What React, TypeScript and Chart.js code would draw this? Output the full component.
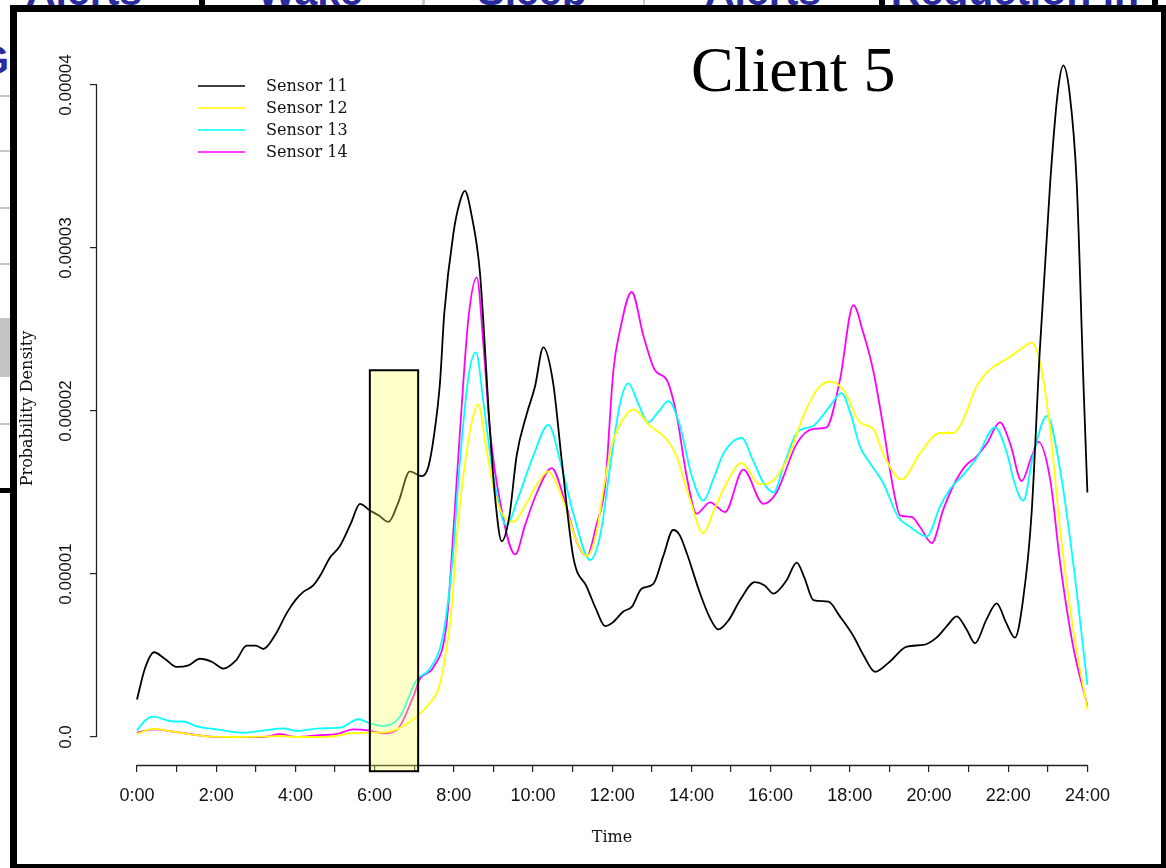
import React, { useEffect, useRef } from "react";
import { Chart, registerables } from "chart.js";

Chart.register(...registerables);

// ---------- data (densities in units of 1e-5) ----------
const seriesLabels = ["Sensor 11", "Sensor 12", "Sensor 13", "Sensor 14"];
const seriesColors = ["#000000", "#ffff00", "#00ffff", "#ff00ff"];

const s11Hours = [0, 0.2, 0.43, 0.7, 1.0, 1.3, 1.59, 1.9, 2.18, 2.5, 2.77, 3.0, 3.19, 3.5, 3.78, 4.0, 4.2, 4.45, 4.65, 4.87, 5.12, 5.4, 5.63, 5.88, 6.1, 6.35, 6.6, 6.89, 7.19, 7.36, 7.5, 7.65, 7.76, 7.99, 8.15, 8.28, 8.45, 8.66, 8.91, 9.05, 9.21, 9.4, 9.59, 9.84, 10.05, 10.26, 10.51, 10.72, 11.02, 11.36, 11.6, 11.82, 12.0, 12.28, 12.5, 12.74, 13.04, 13.29, 13.54, 13.7, 13.88, 14.22, 14.45, 14.68, 14.95, 15.23, 15.6, 15.85, 16.07, 16.4, 16.66, 16.85, 17.08, 17.46, 17.75, 18.09, 18.35, 18.64, 19.0, 19.44, 19.86, 20.19, 20.45, 20.7, 20.95, 21.16, 21.45, 21.71, 21.95, 22.17, 22.38, 22.59, 22.8, 23.06, 23.25, 23.39, 23.55, 23.73, 23.9, 24.0];
const s11Density = [0.23, 0.42, 0.52, 0.48, 0.43, 0.44, 0.48, 0.46, 0.42, 0.47, 0.56, 0.56, 0.54, 0.63, 0.76, 0.84, 0.89, 0.93, 1.0, 1.1, 1.17, 1.31, 1.43, 1.39, 1.36, 1.32, 1.44, 1.63, 1.6, 1.66, 1.85, 2.17, 2.6, 3.09, 3.28, 3.35, 3.2, 2.85, 1.89, 1.45, 1.2, 1.35, 1.73, 1.98, 2.15, 2.39, 2.17, 1.71, 1.1, 0.92, 0.78, 0.68, 0.7, 0.77, 0.8, 0.91, 0.94, 1.11, 1.27, 1.24, 1.13, 0.88, 0.74, 0.66, 0.72, 0.84, 0.95, 0.93, 0.88, 0.96, 1.07, 0.98, 0.84, 0.83, 0.74, 0.62, 0.5, 0.4, 0.46, 0.555, 0.565, 0.61, 0.68, 0.74, 0.66, 0.575, 0.72, 0.82, 0.7, 0.61, 0.85, 1.37, 2.38, 3.4, 3.95, 4.12, 3.95, 3.4, 2.17, 1.5];

const s12Hours = [0, 0.41, 0.92, 1.4, 1.92, 2.5, 3.19, 3.61, 4.03, 4.5, 4.87, 5.38, 5.88, 6.39, 6.75, 7.06, 7.4, 7.62, 7.82, 7.95, 8.07, 8.2, 8.33, 8.47, 8.62, 8.8, 9.0, 9.2, 9.51, 9.8, 10.1, 10.39, 10.6, 10.85, 11.1, 11.36, 11.6, 11.8, 12.0, 12.2, 12.53, 12.95, 13.38, 13.63, 13.96, 14.3, 14.55, 14.81, 15.27, 15.73, 15.98, 16.41, 16.83, 17.17, 17.5, 17.84, 18.26, 18.59, 18.84, 19.31, 19.77, 20.28, 20.61, 20.83, 21.2, 21.54, 21.97, 22.38, 22.59, 22.8, 23.06, 23.31, 23.64, 24.0];
const s12Density = [0.02, 0.05, 0.033, 0.015, 0.002, 0, 0.002, 0.006, 0, 0, 0.002, 0.022, 0.026, 0.033, 0.07, 0.125, 0.21, 0.3, 0.55, 0.8, 1.21, 1.52, 1.76, 1.95, 2.04, 1.8, 1.53, 1.38, 1.32, 1.42, 1.55, 1.63, 1.55, 1.39, 1.2, 1.11, 1.25, 1.55, 1.8, 1.92, 2.01, 1.91, 1.825, 1.72, 1.46, 1.25, 1.38, 1.52, 1.68, 1.55, 1.56, 1.7, 1.97, 2.13, 2.18, 2.13, 1.93, 1.89, 1.74, 1.58, 1.74, 1.865, 1.865, 1.93, 2.15, 2.255, 2.32, 2.39, 2.42, 2.3, 1.89, 1.27, 0.66, 0.17];

const s13Hours = [0, 0.2, 0.41, 0.92, 1.17, 1.51, 2.01, 2.68, 3.19, 3.7, 4.03, 4.62, 5.13, 5.59, 5.88, 6.22, 6.64, 7.06, 7.4, 7.74, 7.99, 8.11, 8.37, 8.56, 8.75, 9.0, 9.33, 9.6, 10.0, 10.39, 10.7, 11.02, 11.44, 11.69, 12.0, 12.2, 12.41, 12.65, 12.91, 13.15, 13.42, 13.71, 14.01, 14.3, 14.55, 14.81, 15.27, 15.55, 15.82, 16.07, 16.35, 16.66, 17.08, 17.5, 17.79, 18.01, 18.26, 18.51, 18.84, 19.22, 19.52, 19.94, 20.28, 20.53, 20.87, 21.2, 21.67, 21.97, 22.17, 22.38, 22.64, 22.98, 23.31, 23.64, 24.0];
const s13Density = [0.04, 0.1, 0.125, 0.095, 0.095, 0.065, 0.047, 0.026, 0.039, 0.053, 0.037, 0.053, 0.057, 0.109, 0.084, 0.068, 0.125, 0.35, 0.42, 0.64, 1.15, 1.56, 2.21, 2.36, 2.05, 1.6, 1.3, 1.45, 1.72, 1.915, 1.68, 1.37, 1.086, 1.23, 1.75, 2.05, 2.17, 2.05, 1.93, 1.99, 2.06, 1.91, 1.6, 1.45, 1.58, 1.74, 1.835, 1.7, 1.56, 1.5, 1.68, 1.865, 1.91, 2.03, 2.11, 1.99, 1.78, 1.68, 1.56, 1.35, 1.29, 1.23, 1.415, 1.52, 1.61, 1.71, 1.9, 1.74, 1.55, 1.45, 1.74, 1.97, 1.64, 1.07, 0.32];

const s14Hours = [0, 0.41, 0.92, 1.51, 2.01, 2.6, 3.19, 3.61, 4.03, 4.62, 5.04, 5.46, 5.88, 6.22, 6.56, 6.98, 7.15, 7.49, 7.82, 8.0, 8.16, 8.37, 8.58, 8.75, 8.91, 9.17, 9.55, 9.8, 10.1, 10.47, 10.8, 11.1, 11.36, 11.6, 11.82, 12.03, 12.2, 12.49, 12.79, 13.08, 13.38, 13.63, 13.88, 14.13, 14.47, 14.85, 15.31, 15.82, 16.15, 16.66, 17.08, 17.41, 17.75, 18.09, 18.34, 18.59, 18.84, 19.1, 19.27, 19.56, 19.77, 20.07, 20.36, 20.61, 20.91, 21.2, 21.46, 21.79, 22.05, 22.34, 22.59, 22.76, 23.06, 23.31, 23.64, 24.0];
const s14Density = [0.026, 0.047, 0.033, 0.012, 0, 0, 0, 0.017, 0, 0.012, 0.018, 0.047, 0.039, 0.022, 0.043, 0.25, 0.36, 0.43, 0.7, 1.3, 1.89, 2.57, 2.82, 2.4, 1.89, 1.44, 1.12, 1.3, 1.5, 1.65, 1.45, 1.2, 1.11, 1.3, 1.54, 2.25, 2.5, 2.73, 2.46, 2.25, 2.19, 1.97, 1.6, 1.37, 1.44, 1.38, 1.64, 1.43, 1.5, 1.8, 1.89, 1.9, 2.19, 2.65, 2.48, 2.25, 1.91, 1.52, 1.36, 1.35, 1.29, 1.19, 1.395, 1.54, 1.66, 1.72, 1.8, 1.93, 1.8, 1.57, 1.72, 1.81, 1.58, 1.07, 0.555, 0.19];

const hourTicks = [0, 1, 2, 3, 4, 5, 6, 7, 8, 9, 10, 11, 12, 13, 14, 15, 16, 17, 18, 19, 20, 21, 22, 23, 24];
const xTickLabels = ["0:00", "", "2:00", "", "4:00", "", "6:00", "", "8:00", "", "10:00", "", "12:00", "", "14:00", "", "16:00", "", "18:00", "", "20:00", "", "22:00", "", "24:00"];
const densityTicks = [0, 1, 2, 3, 4];
const densityTickLabels = ["0.0", "0.00001", "0.00002", "0.00003", "0.00004"];

// highlighted time window (hours) and its vertical extent (density units)
const highlightFrom = 5.88;
const highlightTo = 7.1;
const highlightTop = 2.25;
const highlightBottom = -0.21;

const chartTitle = "Client 5";
const xTitle = "Time";
const yTitle = "Probability Density";

// axis ranges (R-style extended plot region)
const X_MIN = -1.0101;
const X_MAX = 25;
const Y_MIN = -0.1718;
const Y_MAX = 4.2025;

const hoursList = [s11Hours, s12Hours, s13Hours, s14Hours];
const densityList = [s11Density, s12Density, s13Density, s14Density];

const decorPlugin = {
  id: "decor",
  afterDraw(chart: any) {
    const { ctx, chartArea } = chart;
    const xs = chart.scales.x;
    const ys = chart.scales.y;
    ctx.save();
    // R-style axis lines (from first to last tick)
    ctx.strokeStyle = "#222";
    ctx.lineWidth = 1.3;
    ctx.beginPath();
    const yb = Math.round(chartArea.bottom) + 0.5;
    ctx.moveTo(xs.getPixelForValue(hourTicks[0]), yb);
    ctx.lineTo(xs.getPixelForValue(hourTicks[hourTicks.length - 1]), yb);
    const xl = Math.round(chartArea.left) - 0.5;
    ctx.moveTo(xl, ys.getPixelForValue(densityTicks[0]));
    ctx.lineTo(xl, ys.getPixelForValue(densityTicks[densityTicks.length - 1]));
    ctx.stroke();

    // highlight window
    const l = xs.getPixelForValue(highlightFrom);
    const r = xs.getPixelForValue(highlightTo);
    const t = ys.getPixelForValue(highlightTop);
    const b = ys.getPixelForValue(highlightBottom);
    ctx.fillStyle = "rgba(255,255,90,0.32)";
    ctx.fillRect(l, t, r - l, b - t);
    ctx.strokeStyle = "#000";
    ctx.lineWidth = 2;
    ctx.strokeRect(l, t, r - l, b - t);

    // legend
    ctx.font = '16px "DejaVu Serif"';
    ctx.textBaseline = "middle";
    ctx.textAlign = "left";
    chart.data.datasets.forEach((ds: any, i: number) => {
      const y = 86 + i * 22;
      ctx.strokeStyle = ds.borderColor;
      ctx.lineWidth = 1.6;
      ctx.beginPath();
      ctx.moveTo(198, y);
      ctx.lineTo(245, y);
      ctx.stroke();
      ctx.fillStyle = "#111";
      ctx.fillText(ds.label, 266, y + 1);
    });

    // title
    ctx.font = '64px "Liberation Serif"';
    ctx.textBaseline = "alphabetic";
    ctx.fillStyle = "#000";
    ctx.fillText(chartTitle, 691, 91);
    ctx.restore();
  },
};

const blueText: { text: string; cx: number }[] = [
  { text: "Alerts", cx: 84 },
  { text: "Wake", cx: 310 },
  { text: "Sleep", cx: 532 },
  { text: "Alerts", cx: 763 },
  { text: "Reduction in", cx: 1015 },
];

export default function App() {
  const canvasRef = useRef<HTMLCanvasElement | null>(null);

  useEffect(() => {
    if (!canvasRef.current) return;
    const chart = new Chart(canvasRef.current, {
      type: "line",
      data: {
        datasets: seriesLabels.map((label, i) => ({
          label,
          data: hoursList[i].map((h, j) => ({ x: h, y: densityList[i][j] })),
          borderColor: seriesColors[i],
          backgroundColor: seriesColors[i],
          borderWidth: 1.8,
          pointRadius: 0,
          fill: false,
          cubicInterpolationMode: "monotone" as const,
        })),
      },
      options: {
        responsive: false,
        animation: false,
        events: [],
        layout: { padding: { left: 0, top: 52, right: 39, bottom: 0 } },
        plugins: {
          legend: { display: false },
          title: { display: false },
          tooltip: { enabled: false },
        },
        scales: {
          x: {
            type: "linear",
            min: X_MIN,
            max: X_MAX,
            afterBuildTicks: (s: any) => {
              s.ticks = hourTicks.map((v) => ({ value: v }));
            },
            afterFit: (s: any) => {
              s.height = 103;
            },
            ticks: {
              autoSkip: false,
              maxRotation: 0,
              minRotation: 0,
              padding: 13,
              color: "#111",
              font: { family: "Liberation Sans", size: 18 },
              callback: (_v: any, i: number) => xTickLabels[i],
            },
            grid: { drawOnChartArea: false, drawTicks: true, tickLength: 7, color: "#222", lineWidth: 1.2 },
            border: { display: false },
            title: {
              display: true,
              text: xTitle,
              color: "#111",
              font: { family: "DejaVu Serif", size: 16 },
              padding: { top: 0, bottom: 21 },
            },
          },
          y: {
            type: "linear",
            min: Y_MIN,
            max: Y_MAX,
            afterBuildTicks: (s: any) => {
              s.ticks = densityTicks.map((v) => ({ value: v }));
            },
            afterFit: (s: any) => {
              s.width = 97;
            },
            ticks: {
              autoSkip: false,
              minRotation: 90,
              maxRotation: 90,
              crossAlign: "center",
              padding: -7,
              color: "#111",
              font: { family: "Liberation Sans", size: 17 },
              callback: (_v: any, i: number) => densityTickLabels[i],
            },
            grid: { drawOnChartArea: false, drawTicks: true, tickLength: 7, color: "#222", lineWidth: 1.2 },
            border: { display: false },
            title: {
              display: true,
              text: yTitle,
              color: "#111",
              font: { family: "DejaVu Serif", size: 16 },
              padding: { top: 18, bottom: 0 },
            },
          },
        },
      } as any,
      plugins: [decorPlugin],
    });
    return () => chart.destroy();
  }, []);

  return (
    <div style={{ position: "fixed", left: 0, top: 0, width: 1166, height: 868, overflow: "hidden", background: "#fff" }}>
      {/* slide remnants above and left of the framed figure */}
      {blueText.map((b, i) => (
        <div
          key={i}
          style={{
            position: "absolute",
            left: b.cx,
            top: -31,
            transform: "translateX(-50%)",
            font: 'bold 41px "Liberation Sans"',
            lineHeight: "44px",
            color: "#2b2ba0",
            whiteSpace: "nowrap",
          }}
        >
          {b.text}
        </div>
      ))}
      <div style={{ position: "absolute", left: -22, top: 38, font: 'bold 40px "Liberation Sans"', lineHeight: "44px", color: "#2b2ba0" }}>G</div>
      <div style={{ position: "absolute", left: 199, top: 0, width: 6, height: 8, background: "#000" }} />
      <div style={{ position: "absolute", left: 879, top: 0, width: 6, height: 8, background: "#000" }} />
      <div style={{ position: "absolute", left: 1152, top: 0, width: 6, height: 8, background: "#000" }} />
      <div style={{ position: "absolute", left: 422, top: 0, width: 3, height: 8, background: "#c8c8c8" }} />
      <div style={{ position: "absolute", left: 643, top: 0, width: 2, height: 8, background: "#c8c8c8" }} />
      {[95, 150, 207, 263, 423].map((y) => (
        <div key={y} style={{ position: "absolute", left: 0, top: y, width: 12, height: 2, background: "#c8c8c8" }} />
      ))}
      <div style={{ position: "absolute", left: 0, top: 318, width: 12, height: 59, background: "#c4c4c4" }} />
      {/* frame */}
      <div
        style={{
          position: "absolute",
          left: 10,
          top: 5,
          width: 1156,
          height: 863,
          boxSizing: "border-box",
          borderStyle: "solid",
          borderColor: "#000",
          borderWidth: "7px 5px 4px 7px",
          background: "#fff",
        }}
      />
      <canvas
        ref={canvasRef}
        width={1166}
        height={868}
        style={{ position: "absolute", left: 0, top: 0, width: 1166, height: 868 }}
      />
      <div style={{ position: "absolute", left: 0, top: 488, width: 17, height: 5, background: "#000" }} />
    </div>
  );
}
